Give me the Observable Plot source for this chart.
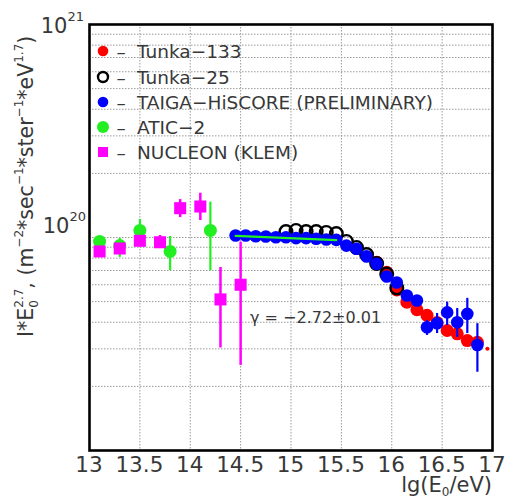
<!DOCTYPE html>
<html><head><meta charset="utf-8">
<script src="https://cdn.jsdelivr.net/npm/d3@7"></script>
<script src="https://cdn.jsdelivr.net/npm/@observablehq/plot@0.6"></script>
<style>body{margin:0;background:#fff;} svg{display:block}</style>
</head><body><div id="chart"></div>
<script>
// ---- tick labels / grid values ----
const xTickValues = [13, 13.5, 14, 14.5, 15, 15.5, 16, 16.5, 17];
const xTickLabels = ["13", "13.5", "14", "14.5", "15", "15.5", "16", "16.5", "17"];
const xGridValues = [13.5, 14, 14.5, 15, 15.5, 16, 16.5];
const yGridValues = [2e19, 3e19, 4e19, 5e19, 6e19, 7e19, 8e19, 9e19, 1e20, 2e20, 3e20, 4e20, 5e20, 6e20, 7e20, 8e20, 9e20];
const yTickValues = [1e20, 1e21];
const yTickExponents = ["20", "21"];

// ---- Tunka-133 (red) ----
const tunka133Lg = [15.85, 15.95, 16.05, 16.15, 16.25, 16.35, 16.45, 16.55, 16.65, 16.75, 16.85];
const tunka133I  = [7.66e19, 6.87e19, 5.67e19, 4.97e19, 4.58e19, 4.31e19, 3.99e19, 3.66e19, 3.53e19, 3.28e19, 3.22e19];
const tunka133EdgeLg = [16.95];
const tunka133EdgeI  = [3.0e19];

// ---- Tunka-25 (open black) ----
const tunka25Lg = [14.95, 15.05, 15.15, 15.25, 15.35, 15.45, 15.55, 15.65, 15.75, 15.85, 15.95, 16.05];
const tunka25I  = [1.067e20, 1.079e20, 1.067e20, 1.067e20, 1.056e20, 1.044e20, 0.958e20, 0.898e20, 0.832e20, 0.755e20, 0.674e20, 0.580e20];

// ---- TAIGA-HiSCORE (blue) ----
const hiscoreLg = [14.45, 14.55, 14.65, 14.75, 14.85, 14.95, 15.05, 15.15, 15.25, 15.35, 15.45,
                   15.55, 15.65, 15.75, 15.85, 15.95, 16.05, 16.15, 16.25, 16.35, 16.45, 16.55, 16.65, 16.75, 16.85];
const hiscoreI  = [1.022e20, 1.022e20, 1.014e20, 1.011e20, 1.003e20, 1.003e20, 0.993e20, 0.993e20, 0.986e20, 0.979e20, 0.975e20,
                   0.916e20, 0.885e20, 0.815e20, 0.752e20, 0.656e20, 0.615e20, 0.534e20, 0.506e20, 0.379e20, 0.396e20, 0.445e20, 0.400e20, 0.438e20, 0.313e20];
const hiscoreErrLg = [16.35, 16.45, 16.55, 16.65, 16.75, 16.85];
const hiscoreErrHi = [4.07e19, 4.40e19, 4.97e19, 4.64e19, 5.18e19, 3.94e19];
const hiscoreErrLo = [3.47e19, 3.54e19, 3.86e19, 3.40e19, 3.54e19, 2.33e19];

// ---- fit line ----
const fitLg = [14.45, 15.45];
const fitI  = [1.017e20, 0.973e20];
const fitLabel = "γ = −2.72±0.01";

// ---- ATIC-2 (green) ----
const aticLg = [13.1, 13.3, 13.5, 13.8, 14.2];
const aticI  = [9.58e19, 9.17e19, 1.08e20, 8.6e19, 1.08e20];
const aticErrHi = [9.58e19, 9.89e19, 1.215e20, 1.011e20, 1.466e20];
const aticErrLo = [9.58e19, 8.06e19, 0.948e20, 0.699e20, 0.699e20];

// ---- NUCLEON (KLEM) (magenta) ----
const nucleonLg = [13.1, 13.3, 13.5, 13.7, 13.9, 14.1, 14.3, 14.5];
const nucleonI  = [8.6e19, 8.88e19, 9.65e19, 9.5e19, 1.373e20, 1.398e20, 5.12e19, 6.0e19];
const nucleonErrHi = [8.6e19, 8.88e19, 9.65e19, 10.22e19, 15.07e19, 16.14e19, 7.23e19, 9.51e19];
const nucleonErrLo = [8.6e19, 8.88e19, 9.65e19, 8.88e19, 12.41e19, 12.02e19, 3.03e19, 2.51e19];

// ---- legend ----
const legendLabels = ["Tunka−133", "Tunka−25", "TAIGA−HiSCORE (PRELIMINARY)", "ATIC−2", "NUCLEON (KLEM)"];

const RED = "#ff0000", BLUE = "#0000ff", GREEN = "#22ee22", MAG = "#ff00ff";
const pts = (xs, ys) => xs.map((x, i) => ({x, y: ys[i]}));
const bars = (xs, lo, hi) => xs.map((x, i) => ({x, y1: lo[i], y2: hi[i]}));

const plot = Plot.plot({
  width: 506, height: 504,
  marginLeft: 89, marginRight: 14, marginTop: 24, marginBottom: 54,
  x: {domain: [13, 17], axis: null},
  y: {type: "log", domain: [1e19, 1e21], axis: null},
  style: {fontFamily: "DejaVu Sans", background: "#fff"},
  marks: [
    Plot.ruleX(xGridValues, {stroke: "#9a9a9a", strokeWidth: 1, strokeDasharray: "1.5,1.5"}),
    Plot.ruleY(yGridValues, {stroke: "#9a9a9a", strokeWidth: 1, strokeDasharray: "1.5,1.5"}),
    // ATIC-2
    Plot.ruleX(bars(aticLg, aticErrLo, aticErrHi), {x: "x", y1: "y1", y2: "y2", stroke: GREEN, strokeWidth: 2.2}),
    Plot.dot(pts(aticLg, aticI), {x: "x", y: "y", r: 6.5, fill: GREEN}),
    // NUCLEON
    Plot.ruleX(bars(nucleonLg, nucleonErrLo, nucleonErrHi), {x: "x", y1: "y1", y2: "y2", stroke: MAG, strokeWidth: 2.5}),
    Plot.dot(pts(nucleonLg, nucleonI), {x: "x", y: "y", r: 6.8, symbol: "square", fill: MAG}),
    // Tunka-133
    Plot.dot(pts(tunka133Lg, tunka133I), {x: "x", y: "y", r: 6.5, fill: RED}),
    Plot.dot(pts(tunka133EdgeLg, tunka133EdgeI), {x: "x", y: "y", r: 2, fill: RED}),
    // Tunka-25
    Plot.dot(pts(tunka25Lg, tunka25I), {x: "x", y: "y", r: 6.3, fill: "none", stroke: "#000", strokeWidth: 2.4}),
    // HiSCORE
    Plot.ruleX(bars(hiscoreErrLg, hiscoreErrLo, hiscoreErrHi), {x: "x", y1: "y1", y2: "y2", stroke: BLUE, strokeWidth: 2.2}),
    Plot.dot(pts(hiscoreLg, hiscoreI), {x: "x", y: "y", r: 6.3, fill: BLUE}),
    // fit
    Plot.line(pts(fitLg, fitI), {x: "x", y: "y", stroke: GREEN, strokeWidth: 2.2}),
    Plot.frame({stroke: "#000", strokeWidth: 2.6})
  ]
});

document.getElementById("chart").appendChild(plot);

const sx = plot.scale("x"), sy = plot.scale("y");
const svg = d3.select(plot);
const TXT = "#383838";
const g = svg.append("g").attr("font-family", "DejaVu Sans").attr("fill", TXT).attr("text-anchor", "start");

// x tick labels
xTickValues.forEach((v, i) => {
  g.append("text").attr("x", sx.apply(v)).attr("y", 472).attr("text-anchor", "middle")
    .attr("font-size", 21.5).text(xTickLabels[i]);
});
// x title
const xt = g.append("text").attr("x", 492).attr("y", 492).attr("text-anchor", "end").attr("font-size", 21);
xt.append("tspan").text("lg(E");
xt.append("tspan").attr("font-size", 12).attr("dy", 4).text("0");
xt.append("tspan").attr("dy", -4).text("/eV)");

// y tick labels
yTickValues.forEach((v, i) => {
  const py = sy.apply(v);
  const atTop = Math.abs(py - 24) < 2;
  const base = atTop ? py + 9 : py - 4;
  const t = g.append("text").attr("x", atTop ? 84 : 86).attr("y", base).attr("text-anchor", "end").attr("font-size", 21);
  t.append("tspan").text("10");
  t.append("tspan").attr("font-size", 13).attr("dy", -12).text(yTickExponents[i]);
});

// y title
const yt = g.append("text").attr("transform", "translate(33,337) rotate(-90)").attr("text-anchor", "start").attr("font-size", 20.5);
yt.append("tspan").text("I*E");
yt.append("tspan").attr("font-size", 12).attr("dy", 5).text("0");
yt.append("tspan").attr("font-size", 12).attr("dx", -7.6).attr("dy", -15).text("2.7");
yt.append("tspan").attr("dy", 10).text(", (m");
yt.append("tspan").attr("font-size", 12).attr("dy", -10).text("−2");
yt.append("tspan").attr("dy", 10).text("*sec");
yt.append("tspan").attr("font-size", 12).attr("dy", -10).text("−1");
yt.append("tspan").attr("dy", 10).text("*ster");
yt.append("tspan").attr("font-size", 12).attr("dy", -10).text("−1");
yt.append("tspan").attr("dy", 10).text("*eV");
yt.append("tspan").attr("font-size", 12).attr("dy", -10).text("1.7");
yt.append("tspan").attr("dy", 10).text(")");

// fit label
g.append("text").attr("x", 250).attr("y", 323).attr("text-anchor", "start").attr("font-size", 16).text(fitLabel);

// legend
const rows = [51, 77, 102, 127, 152];
const lg = svg.append("g").attr("font-family", "DejaVu Sans").attr("fill", TXT);
legendLabels.forEach((lab, i) => {
  const y = rows[i], x = 103;
  if (i === 0) lg.append("circle").attr("cx", x).attr("cy", y).attr("r", 5.3).attr("fill", RED);
  if (i === 1) lg.append("circle").attr("cx", x).attr("cy", y).attr("r", 5).attr("fill", "none").attr("stroke", "#000").attr("stroke-width", 2.4);
  if (i === 2) lg.append("circle").attr("cx", x).attr("cy", y).attr("r", 5.3).attr("fill", BLUE);
  if (i === 3) lg.append("circle").attr("cx", x).attr("cy", y).attr("r", 6).attr("fill", GREEN);
  if (i === 4) lg.append("rect").attr("x", x - 5).attr("y", y - 5).attr("width", 10).attr("height", 10).attr("fill", MAG);
  lg.append("text").attr("x", 116.5).attr("y", y + 7).attr("text-anchor", "start").attr("font-size", 18.5).text("–");
  lg.append("text").attr("x", 137).attr("y", y + 7).attr("text-anchor", "start").attr("font-size", 18.5).text(lab);
});
</script>
</body></html>
